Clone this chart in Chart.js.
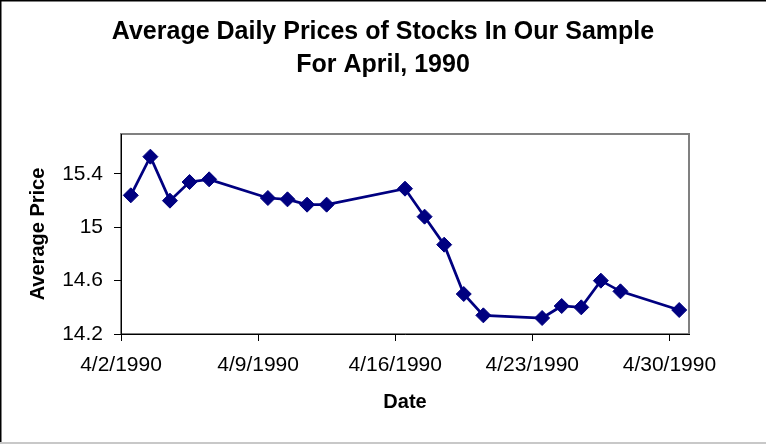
<!DOCTYPE html>
<html>
<head>
<meta charset="utf-8">
<script src="https://cdn.jsdelivr.net/npm/chart.js@4"></script>
<style>
  html, body { margin: 0; padding: 0; background: #fff; }
  #wrap { width: 766px; height: 444px; }
</style>
</head>
<body>
<div id="wrap"><canvas id="priceChart" width="766" height="444"></canvas></div>
<script>
// Trading days of April 1990 (day of month) and average price
const days   = [2, 3, 4, 5, 6, 9, 10, 11, 12, 16, 17, 18, 19, 20, 23, 24, 25, 26, 27, 30];
const prices = [15.24, 15.53, 15.20, 15.34, 15.36, 15.22, 15.21, 15.17, 15.17,
                15.29, 15.08, 14.87, 14.50, 14.34, 14.32, 14.41, 14.40, 14.60, 14.52, 14.38];

// date axis labels (one per week)
const tickDays   = [2, 9, 16, 23, 30];
const tickLabels = ['4/2/1990', '4/9/1990', '4/16/1990', '4/23/1990', '4/30/1990'];
const yTicks     = [14.2, 14.6, 15, 15.4];

const FONT = "'Liberation Sans', Arial, sans-serif";

// outer frame + plot area border, like the Excel chart
const framePlugin = {
  id: 'frame',
  beforeDraw(chart) {
    const ctx = chart.ctx;
    const a = chart.chartArea;
    ctx.save();
    ctx.fillStyle = '#fff';
    ctx.fillRect(0, 0, chart.width, chart.height);
    ctx.fillStyle = '#000';
    ctx.fillRect(0, 0, chart.width, 1.5);
    ctx.fillRect(0, 0, 1.5, chart.height);
    ctx.fillStyle = '#c8c8c8';
    ctx.fillRect(0, chart.height - 2, chart.width, 2);
    ctx.strokeStyle = '#808080';
    ctx.lineWidth = 2;
    ctx.strokeRect(a.left, a.top, a.right - a.left, a.bottom - a.top);
    ctx.restore();
  }
};

new Chart(document.getElementById('priceChart'), {
  type: 'line',
  data: {
    datasets: [{
      data: days.map((d, i) => ({ x: d, y: prices[i] })),
      borderColor: '#000080',
      backgroundColor: '#000080',
      borderWidth: 2.75,
      pointStyle: 'rectRot',
      pointRadius: 7.5,
      pointBorderWidth: 1,
      tension: 0,
      clip: false,
    }],
  },
  options: {
    responsive: false,
    animation: false,
    layout: { padding: 0 },
    plugins: {
      legend: { display: false },
      tooltip: { enabled: false },
      title: {
        display: true,
        text: ['Average Daily Prices of Stocks In Our Sample', 'For April, 1990'],
        color: '#000',
        font: { family: FONT, size: 25, weight: 'bold', lineHeight: 1.336 },
        padding: { top: 15, bottom: 52.2 },
      },
    },
    scales: {
      x: {
        type: 'linear',
        min: 1.5,
        max: 30.5,
        // Excel date axis: each day is a slot, labels on slot edges
        afterBuildTicks: s => { s.ticks = tickDays.map(d => ({ value: d - 0.5 })); },
        afterFit: s => { s.height = 110; },
        border: { display: true, color: '#000', width: 1 },
        grid: { drawOnChartArea: false, drawTicks: true, tickLength: 7, color: '#000' },
        ticks: {
          autoSkip: false, maxRotation: 0, color: '#000', padding: 12,
          font: { family: FONT, size: 21 },
          callback: (v, i) => tickLabels[i],
        },
        title: {
          display: true, text: 'Date', color: '#000',
          font: { family: FONT, size: 20, weight: 'bold', lineHeight: 1.2 },
          padding: { top: 0, bottom: 30 },
        },
      },
      y: {
        min: 14.2,
        max: 15.7,
        afterBuildTicks: s => { s.ticks = yTicks.map(v => ({ value: v })); },
        afterFit: s => { s.width = 121; },
        border: { display: true, color: '#000', width: 1 },
        grid: { drawOnChartArea: false, drawTicks: true, tickLength: 7, color: '#000' },
        ticks: {
          color: '#000', padding: 11,
          font: { family: FONT, size: 21 },
          callback: v => String(+v.toFixed(1)),
        },
        title: {
          display: true, text: 'Average Price', color: '#000',
          font: { family: FONT, size: 20, weight: 'bold', lineHeight: 1.2 },
          padding: { top: 26, bottom: 0 },
        },
      },
      // empty spacer on the right so the plot ends where Excel's does
      // while the title stays centred on the whole page
      spacer: {
        position: 'right',
        display: true,
        afterFit: s => { s.width = 77; },
        border: { display: false },
        grid: { display: false },
        ticks: { display: false },
      },
    },
  },
  plugins: [framePlugin],
});
</script>
</body>
</html>
